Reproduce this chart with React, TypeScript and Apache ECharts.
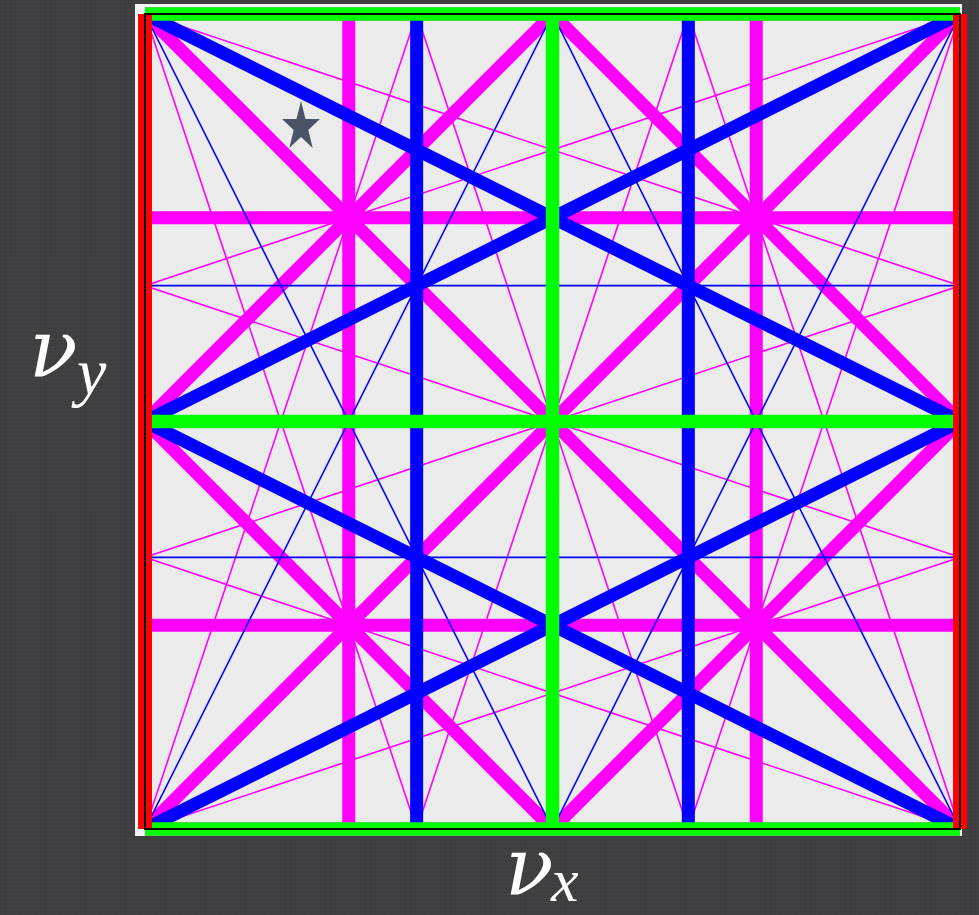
import { useEffect, useRef } from "react";
import * as echarts from "echarts";

// Resonance conditions a·νx + b·νy = n, each entry is [a, b]
const order1Normal = [[1, 0]];
const order2Normal = [[2, 0], [0, 2]];
const order3Normal = [[3, 0], [1, 2], [1, -2]];
const order3Skew = [[0, 3], [2, 1], [2, -1]];
const order4Normal = [[4, 0], [0, 4], [2, 2], [2, -2]];
const order4Skew = [[3, 1], [3, -1], [1, 3], [1, -3]];

// Working point (νx, νy)
const workingPoint = [0.1914, 0.8644];

const STAR =
  "path://M50 0 L61.23 34.55 L97.55 34.55 L68.16 55.9 L79.39 90.45 L50 69.1 L20.61 90.45 L31.84 55.9 L2.45 34.55 L38.77 34.55 Z";

// Clip the line a·x + b·y = n to the unit tune square
function clipToSquare(a: number, b: number, n: number): number[][] | null {
  const pts: number[][] = [];
  const eps = 1e-9;
  for (const c of [0, 1]) {
    if (b !== 0) {
      const y = (n - a * c) / b;
      if (y >= -eps && y <= 1 + eps) pts.push([c, Math.min(1, Math.max(0, y))]);
    }
    if (a !== 0) {
      const x = (n - b * c) / a;
      if (x >= -eps && x <= 1 + eps) pts.push([Math.min(1, Math.max(0, x)), c]);
    }
  }
  const uniq: number[][] = [];
  for (const p of pts) {
    if (!uniq.some((q) => Math.abs(q[0] - p[0]) < 1e-6 && Math.abs(q[1] - p[1]) < 1e-6)) uniq.push(p);
  }
  return uniq.length >= 2 ? [uniq[0], uniq[1]] : null;
}

function resonanceSeries(coefs: number[][], color: string, width: number, z: number) {
  const out: any[] = [];
  for (const [a, b] of coefs) {
    const corners = [0, a, b, a + b];
    const lo = Math.ceil(Math.min(...corners));
    const hi = Math.floor(Math.max(...corners));
    for (let n = lo; n <= hi; n++) {
      const seg = clipToSquare(a, b, n);
      if (!seg) continue;
      out.push({
        type: "line",
        data: seg,
        symbol: "none",
        showSymbol: false,
        clip: false,
        silent: true,
        z,
        lineStyle: { color, width, cap: "butt" },
      });
    }
  }
  return out;
}

function mathText(text: string, x: number, y: number, size: number, family: string) {
  return {
    type: "text",
    x,
    y,
    z: 100,
    silent: true,
    style: {
      text,
      fill: "#ffffff",
      fontFamily: family,
      fontStyle: "italic",
      fontSize: size,
      textAlign: "left",
      textVerticalAlign: "middle",
    },
  };
}

export default function App() {
  const ref = useRef<HTMLDivElement>(null);

  useEffect(() => {
    if (!ref.current) return;
    const chart = echarts.init(ref.current, undefined, { renderer: "svg" });

    const series = [
      ...resonanceSeries(order4Normal, "#ff00ff", 13, 2),
      ...resonanceSeries(order4Skew, "#ff00ff", 1.6, 2),
      ...resonanceSeries(order3Normal, "#0000ff", 13, 3),
      ...resonanceSeries(order3Skew, "#0000ff", 1.6, 3),
      ...resonanceSeries(order2Normal, "#00ff00", 13.5, 4),
      ...resonanceSeries(order1Normal, "#ff0000", 14, 5),
      {
        type: "scatter",
        data: [workingPoint],
        symbol: STAR,
        symbolSize: [38, 47],
        silent: true,
        z: 10,
        itemStyle: { color: "#4a5467", opacity: 1 },
      },
    ];

    chart.setOption({
      animation: false,
      backgroundColor: "transparent",
      grid: {
        left: 145,
        top: 14,
        width: 815,
        height: 815,
        show: true,
        backgroundColor: "#ebebeb",
        borderWidth: 0,
      },
      xAxis: {
        type: "value",
        min: 0,
        max: 1,
        axisLine: { show: false },
        axisTick: { show: false },
        axisLabel: { show: false },
        splitLine: { show: false },
      },
      yAxis: {
        type: "value",
        min: 0,
        max: 1,
        axisLine: { show: false },
        axisTick: { show: false },
        axisLabel: { show: false },
        splitLine: { show: false },
      },
      graphic: [
        {
          type: "rect",
          z: -10,
          silent: true,
          shape: { x: 135, y: 4, width: 827, height: 832 },
          style: { fill: "#f6f6f6" },
        },
        {
          type: "rect",
          z: 100,
          silent: true,
          shape: { x: 145, y: 14, width: 815, height: 815 },
          style: { fill: "none", stroke: "#000000", lineWidth: 2 },
        },
        mathText("ν", 29, 349, 80, "DejaVu Serif"),
        mathText("y", 77, 371, 66, "Liberation Serif"),
        mathText("ν", 505, 867, 80, "DejaVu Serif"),
        mathText("x", 551, 880, 62, "Liberation Serif"),
      ],
      series,
    });

    return () => chart.dispose();
  }, []);

  return (
    <div
      style={{
        position: "fixed",
        left: 0,
        top: 0,
        width: 979,
        height: 915,
        backgroundColor: "#3f3f41",
        backgroundImage:
          "repeating-linear-gradient(0deg, rgba(255,255,255,0.018) 0px, rgba(255,255,255,0.018) 1px, transparent 1px, transparent 4px), repeating-linear-gradient(90deg, rgba(0,0,0,0.04) 0px, rgba(0,0,0,0.04) 1px, transparent 1px, transparent 5px)",
      }}
    >
      <div ref={ref} style={{ width: 979, height: 915 }} />
    </div>
  );
}
